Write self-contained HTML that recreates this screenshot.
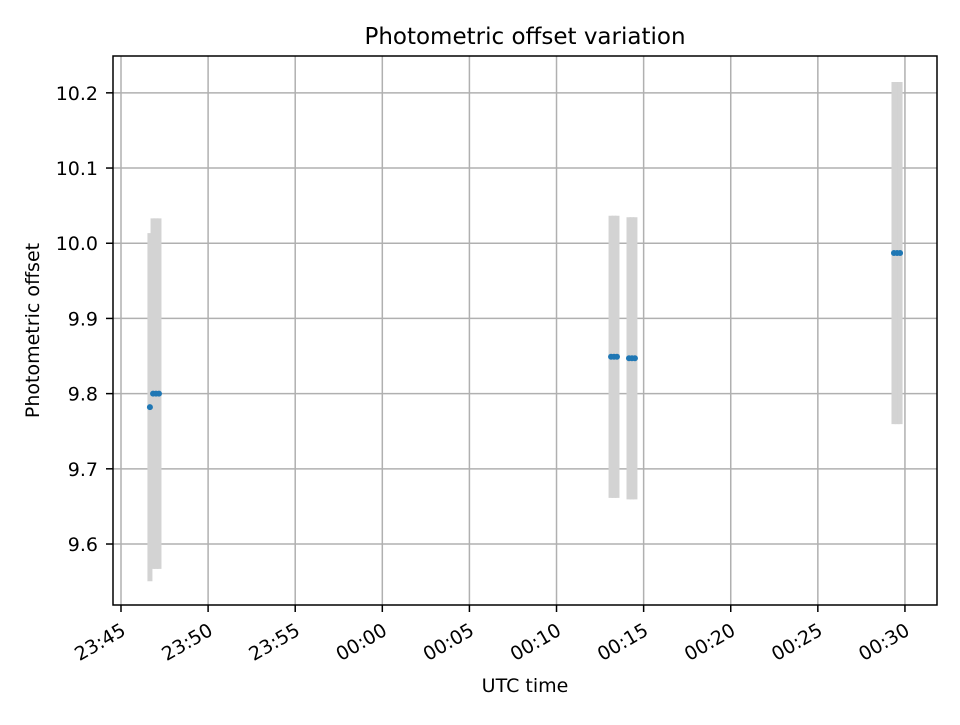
<!DOCTYPE html>
<html><head><meta charset="utf-8"><style>
body{margin:0;background:#fff}
svg text{font-family:"DejaVu Sans","Liberation Sans",sans-serif;fill:#000}
</style></head><body>
<svg id="chart" width="960" height="720" xmlns="http://www.w3.org/2000/svg">
<rect x="0" y="0" width="960" height="720" fill="#fff"/>
<g id="grid"></g><g id="bars"></g><g id="pts"></g><g id="axes"></g>
</svg>
<script>
// Data: time in minutes after 23:45 UTC, values and errors
const groupTimes = [[1.66],[1.84,2.01,2.18],[28.13,28.3,28.47],[29.16,29.33,29.5],[44.37,44.55,44.72]];
const groupValues = [9.782, 9.800, 9.849, 9.847, 9.987];
const groupErrors = [0.2315, 0.233, 0.1876, 0.1876, 0.2275];
const xTickLabels = ["23:45","23:50","23:55","00:00","00:05","00:10","00:15","00:20","00:25","00:30"];
const xTickMinutes = [0,5,10,15,20,25,30,35,40,45];
const yTicks = [9.6,9.7,9.8,9.9,10.0,10.1,10.2];

const L=113,R=937,T=56,B=605;
const xMin=-0.459,xMax=46.84,yMin=9.5189,yMax=10.249;
const sx=t=>L+(t-xMin)/(xMax-xMin)*(R-L);
const sy=v=>B-(v-yMin)/(yMax-yMin)*(B-T);
const NS="http://www.w3.org/2000/svg";
function mk(tag,parent,attrs){const e=document.createElementNS(NS,tag);for(const k in attrs)e.setAttribute(k,attrs[k]);document.getElementById(parent).appendChild(e);return e;}

xTickMinutes.forEach((m,i)=>{
  const x=sx(m);
  const g=mk('line','grid',{x1:x,x2:x,y1:T,y2:B,stroke:'#b0b0b0','stroke-width':1.5});
  
  
  const t=mk('line','axes',{x1:x,x2:x,y1:B,y2:B+7,stroke:'#000','stroke-width':1.5});
  
  
  const ax=x+6,ay=B+29;
  const lb=mk('text','axes',{x:ax,y:ay,'text-anchor':'end','font-size':19,transform:`rotate(-30 ${ax} ${ay})`});
  lb.textContent=xTickLabels[i];
  
  
});
yTicks.forEach(v=>{
  const y=sy(v);
  const g=mk('line','grid',{x1:L,x2:R,y1:y,y2:y,stroke:'#b0b0b0','stroke-width':1.5});
  
  
  const t=mk('line','axes',{x1:L-7,x2:L,y1:y,y2:y,stroke:'#000','stroke-width':1.5});
  
  
  const lb=mk('text','axes',{x:L-15,y:y+7,'text-anchor':'end','font-size':19});
  lb.textContent=v.toFixed(1);
  
  
});
groupTimes.forEach((ts,gi)=>{
  const v=groupValues[gi],e=groupErrors[gi];
  ts.forEach(t=>{
    const x=sx(t);
    const b=mk('line','bars',{x1:x,x2:x,y1:sy(v+e),y2:sy(v-e),stroke:'#d3d3d3','stroke-width':5});
    
    
  });
  ts.forEach(t=>{
    const c=mk('circle','pts',{cx:sx(t),cy:sy(v),r:3,fill:'#1f77b4'});
    
    
  });
});
const fr=mk('rect','axes',{x:L,y:T,width:R-L,height:B-T,fill:'none',stroke:'#000','stroke-width':1.5});


const ti=mk('text','axes',{x:(L+R)/2,y:44,'text-anchor':'middle','font-size':23});
ti.textContent='Photometric offset variation';


const xl=mk('text','axes',{x:(L+R)/2,y:692,'text-anchor':'middle','font-size':19});
xl.textContent='UTC time';


const yl=mk('text','axes',{x:39,y:(T+B)/2,'text-anchor':'middle','font-size':19,transform:`rotate(-90 39 ${(T+B)/2})`});
yl.textContent='Photometric offset';


</script>
</body></html>
